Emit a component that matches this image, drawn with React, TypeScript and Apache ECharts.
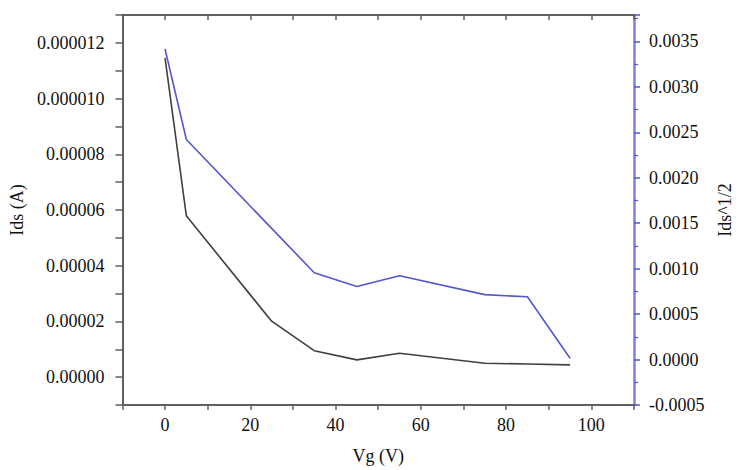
import React, { useEffect, useRef } from "react";
import * as echarts from "echarts";

const idsX = [0, 5, 25, 35, 45, 55, 75, 85, 95];
const idsY = [11.46e-6, 5.79e-6, 2.01e-6, 0.95e-6, 0.62e-6, 0.86e-6, 0.5e-6, 0.47e-6, 0.44e-6];
const sqrtX = [0, 5, 35, 45, 55, 75, 85, 95];
const sqrtY = [0.003416, 0.00242, 0.000955, 0.000804, 0.000922, 0.000714, 0.00069, 0.000014];

const xTickValues = [0, 20, 40, 60, 80, 100];
const xTickLabels = ["0", "20", "40", "60", "80", "100"];
const leftTickValues = [0, 2e-6, 4e-6, 6e-6, 8e-6, 10e-6, 12e-6];
const leftTickLabels = ["0.00000", "0.00002", "0.00004", "0.00006", "0.00008", "0.000010", "0.000012"];
const rightTickValues = [-0.0005, 0, 0.0005, 0.001, 0.0015, 0.002, 0.0025, 0.003, 0.0035];
const rightTickLabels = ["-0.0005", "0.0000", "0.0005", "0.0010", "0.0015", "0.0020", "0.0025", "0.0030", "0.0035"];

const lookup = (vals: number[], labels: string[], v: number, eps: number) => {
  for (let i = 0; i < vals.length; i++) if (Math.abs(vals[i] - v) < eps) return labels[i];
  return "";
};

const FONT = "'Liberation Serif', 'Times New Roman', Times, serif";
const AX = "#5f5f5f";
const BLUE_AX = "#8080dd";

export default function App() {
  const ref = useRef<HTMLDivElement>(null);
  useEffect(() => {
    if (!ref.current) return;
    const chart = echarts.init(ref.current, null, { renderer: "svg" });
    const labelStyle = { color: "#111", fontFamily: FONT, fontSize: 18 };
    chart.setOption({
      animation: false,
      backgroundColor: "#fff",
      grid: { left: 120, right: 101, top: 15, bottom: 57 },
      xAxis: [
        {
          type: "value",
          min: -10,
          max: 110,
          interval: 10,
          name: "Vg (V)",
          nameLocation: "middle",
          nameGap: 42,
          nameTextStyle: { ...labelStyle },
          axisLine: { onZero: false, lineStyle: { color: AX, width: 2 } },
          axisTick: { show: true, length: 5, inside: false, lineStyle: { color: AX, width: 1.5 } },
          axisLabel: {
            ...labelStyle,
            margin: 11,
            formatter: (v: number) => lookup(xTickValues, xTickLabels, v, 1e-6),
          },
          splitLine: { show: false },
        },
        {
          type: "value",
          position: "top",
          min: -10,
          max: 110,
          interval: 10,
          axisLine: { onZero: false, lineStyle: { color: AX, width: 2 } },
          axisTick: { show: true, length: 5, inside: true, lineStyle: { color: AX, width: 1.5 } },
          axisLabel: { show: false },
          splitLine: { show: false },
        },
      ],
      yAxis: [
        {
          type: "value",
          position: "left",
          min: -1e-6,
          max: 13e-6,
          interval: 1e-6,
          name: "Ids (A)",
          nameLocation: "middle",
          nameRotate: 90,
          nameGap: 92,
          nameTextStyle: { ...labelStyle },
          axisLine: { show: true, onZero: false, lineStyle: { color: AX, width: 2 } },
          axisTick: { show: true, length: 7, lineStyle: { color: AX, width: 1.5 } },
          axisLabel: {
            ...labelStyle,
            margin: 18,
            formatter: (v: number) => lookup(leftTickValues, leftTickLabels, v, 1e-10),
          },
          splitLine: { show: false },
        },
        {
          type: "value",
          position: "right",
          min: -0.0005,
          max: 0.00379,
          interval: 0.0005,
          name: "Ids^1/2",
          nameLocation: "middle",
          nameRotate: 90,
          nameGap: 82,
          nameTextStyle: { ...labelStyle },
          axisLine: { show: true, onZero: false, lineStyle: { color: BLUE_AX, width: 2.5 } },
          axisTick: { show: true, length: 6, lineStyle: { color: "#5555cc", width: 1.5 } },
          minorTick: { show: true, splitNumber: 2, length: 4, lineStyle: { color: "#5555cc", width: 1.2 } },
          axisLabel: {
            ...labelStyle,
            margin: 15,
            formatter: (v: number) => lookup(rightTickValues, rightTickLabels, v, 1e-7),
          },
          splitLine: { show: false },
          minorSplitLine: { show: false },
        },
      ],
      series: [
        {
          type: "line",
          xAxisIndex: 0,
          yAxisIndex: 0,
          data: idsX.map((x, i) => [x, idsY[i]]),
          symbol: "none",
          lineStyle: { color: "#404040", width: 1.6 },
        },
        {
          type: "line",
          xAxisIndex: 0,
          yAxisIndex: 1,
          data: sqrtX.map((x, i) => [x, sqrtY[i]]),
          symbol: "none",
          lineStyle: { color: "#5656cf", width: 1.6 },
        },
      ],
    });
    return () => chart.dispose();
  }, []);
  return <div ref={ref} style={{ width: 742, height: 470, position: "absolute", left: 0, top: 0 }} />;
}
